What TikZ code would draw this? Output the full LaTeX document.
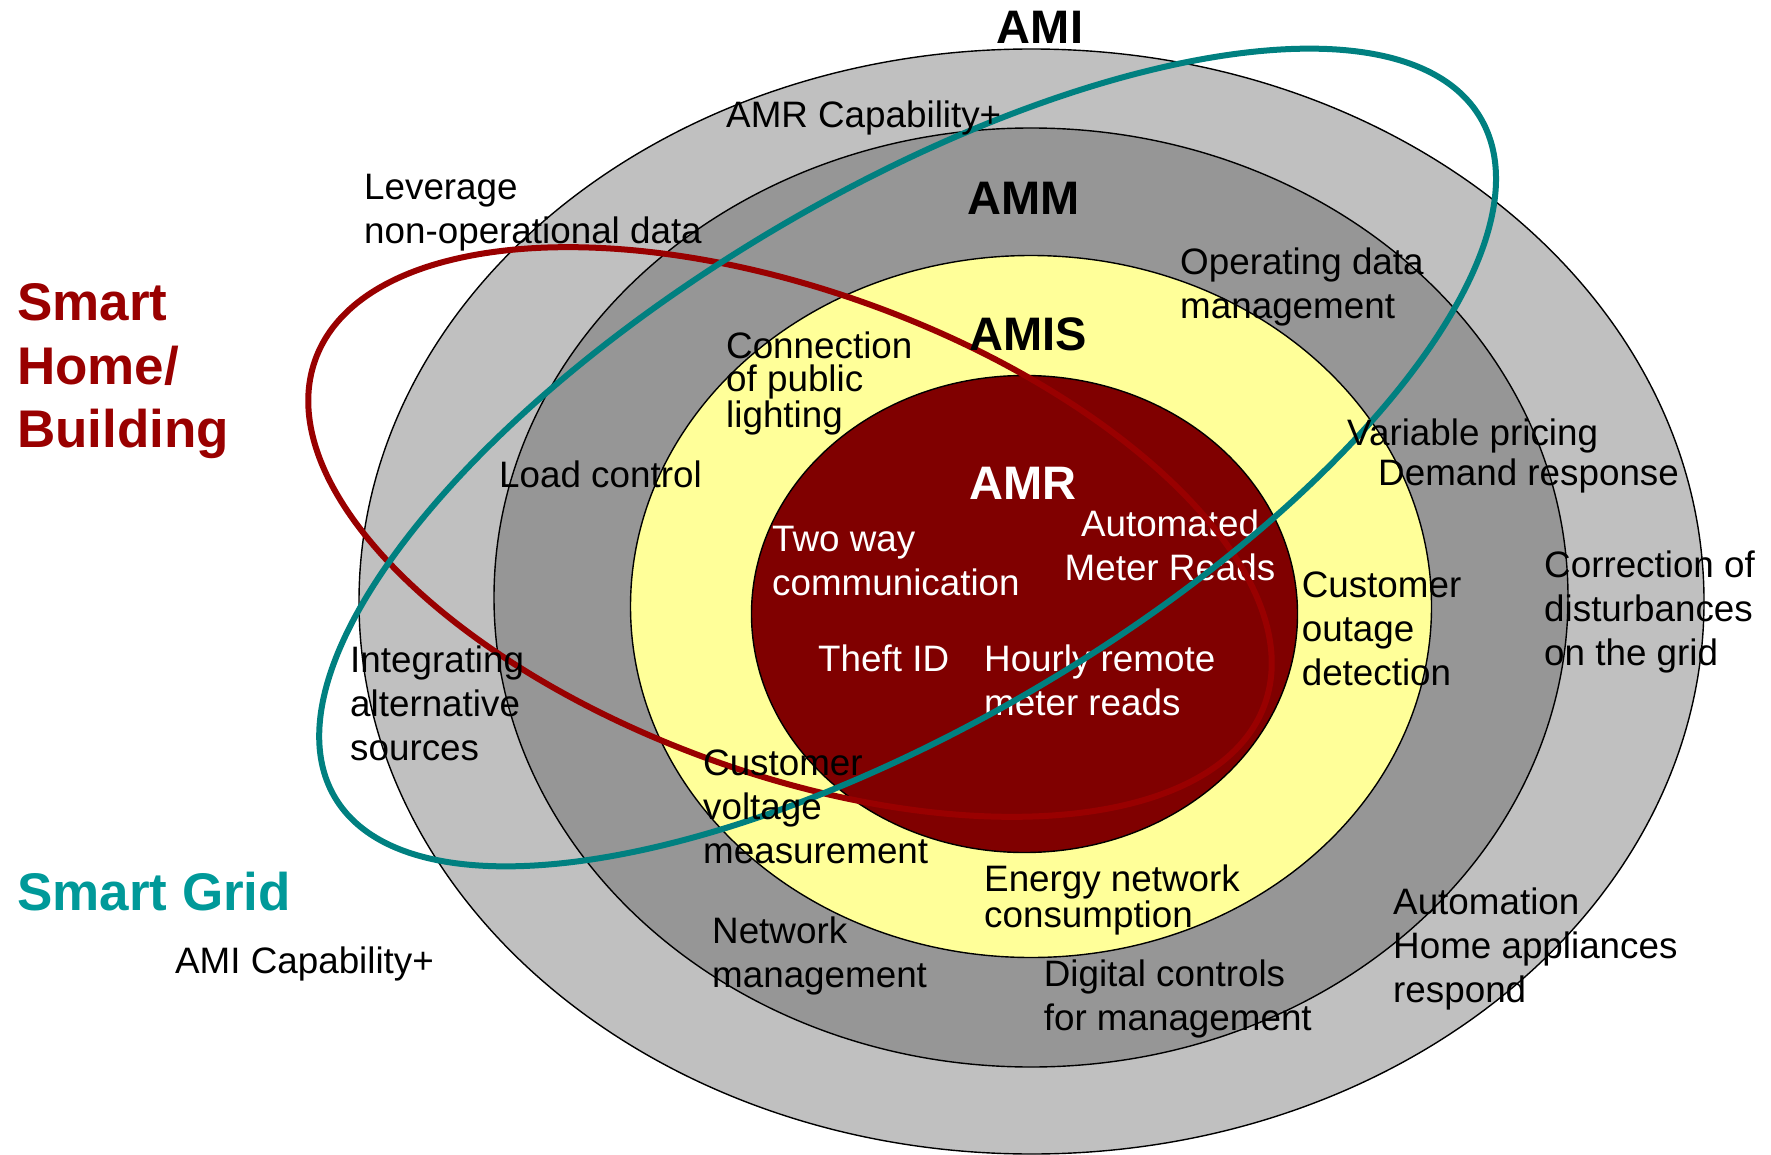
\documentclass[tikz,border=0pt]{standalone}
\usepackage{fontspec}
\setmainfont{Liberation Sans}
\definecolor{amigray}{HTML}{C0C0C0}
\definecolor{ammgray}{HTML}{969696}
\definecolor{amisyellow}{HTML}{FFFF99}
\definecolor{amrred}{HTML}{800000}
\definecolor{homered}{HTML}{990000}
\definecolor{gridteal}{HTML}{008080}
\definecolor{gridlabel}{HTML}{009999}
\begin{document}
\begin{tikzpicture}[x=1pt,y=-1pt,
  ring/.style={draw=black,line width=1.4pt},
  txt/.style={anchor=base west,inner sep=0pt,align=left,font=\fontsize{36.8}{44}\selectfont},
  tighttxt/.style={txt,font=\fontsize{36.8}{33}\selectfont},
  wtxt/.style={txt,text=white},
  ttl/.style={anchor=base,inner sep=0pt,font=\fontsize{47}{56}\selectfont\bfseries},
  bigl/.style={anchor=base west,inner sep=0pt,align=left,font=\fontsize{53}{63.5}\selectfont\bfseries},
  zoneline/.style={line width=6pt}]
\useasboundingbox (0,0) rectangle (1771,1155);
% concentric zones
\path[ring,fill=amigray] (1031.5,601.5) ellipse [x radius=672.5, y radius=552.5];
\path[ring,fill=ammgray] (1031,597.5) ellipse [x radius=537, y radius=469.5];
\path[ring,fill=amisyellow] (1031,606.5) ellipse [x radius=400.5, y radius=351];
\path[ring,fill=amrred] (1024.5,614) ellipse [x radius=273, y radius=238.5];
% white texts in AMR (base anchor = last line baseline)
\node[ttl,text=white] (amr) at (1023,499) {AMR};
\node[wtxt] (twoway) at (772,595) {Two way\\communication};
\node[wtxt,anchor=base,align=center] (autoreads) at (1170,580) {Automated\\Meter Reads};
\node[wtxt] (theft) at (818,671) {Theft ID};
\node[wtxt] (hourly) at (984,715.6) {Hourly remote\\meter reads};
% Smart Home / Building and Smart Grid outlines
\draw[zoneline,draw=homered,rotate around={-20:(790,532)}] (790,532) ellipse [x radius=505, y radius=241];
\draw[zoneline,draw=gridteal,rotate around={30.7:(907.6,457.5)}] (907.6,457.5) ellipse [x radius=666, y radius=264];
% titles
\node[ttl] (ami) at (1040,44) {AMI};
\node[ttl] (amm) at (1024,215) {AMM};
\node[ttl] (amis) at (1028,350) {AMIS};
\node[bigl,text=homered] (home) at (17,447.8) {Smart\\Home/\\Building};
\node[bigl,text=gridlabel] (grid) at (17,910) {Smart Grid};
% black texts
\node[txt] (amicap) at (175,973) {AMI Capability+};
\node[txt] (amrcap) at (726,127.4) {AMR Capability+};
\node[txt] (leverage) at (364,243.4) {Leverage\\non-operational data};
\node[txt] (operating) at (1180,319) {Operating data\\management};
\node[tighttxt] (lighting) at (726,427) {Connection\\of public\\lighting};
\node[txt] (load) at (499,487) {Load control};
\node[txt] (pricing) at (1347,445.5) {Variable pricing};
\node[txt] (demand) at (1378,485.7) {Demand response};
\node[txt] (correction) at (1544,665.5) {Correction of\\disturbances\\on the grid};
\node[txt] (outage) at (1301.6,685) {Customer\\outage\\detection};
\node[txt] (integrating) at (350,760) {Integrating\\alternative\\sources};
\node[txt] (voltage) at (703,863.6) {Customer\\voltage\\measurement};
\node[tighttxt] (energy) at (984,927) {Energy network\\consumption};
\node[txt] (network) at (712,987) {Network\\management};
\node[txt] (digital) at (1043.6,1030.6) {Digital controls\\for management};
\node[txt] (automation) at (1393,1002) {Automation\\Home appliances\\respond};
\end{tikzpicture}
\end{document}
